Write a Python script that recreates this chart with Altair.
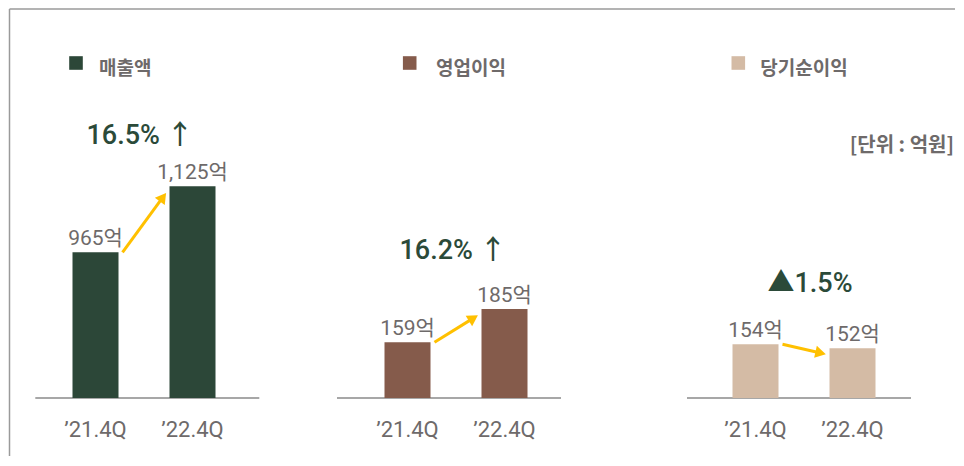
import math
import altair as alt
import pandas as pd

# ---- data ----
periods = ["’21.4Q", "’22.4Q"]
metric_names = ["매출액", "영업이익", "당기순이익"]
sales = [965, 1125]
operating_profit = [159, 185]
net_profit = [154, 152]
growth_labels = ["16.5% ↑", "16.2% ↑", "▲1.5%"]
unit_label = "[단위 : 억원]"
bar_colors = ["#2c4738", "#855b4b", "#d4bba5"]

FONT = "Roboto, 'Noto Sans CJK KR', sans-serif"
KFONT = "'Noto Sans CJK KR', Roboto, sans-serif"
GRAY = "#6e6a6a"
GREEN = "#2b4a39"
GOLD = "#ffc000"

H = 300
STEP = 97
BAND = 46
LEFT_PAD = 40.5


def panel(values, color, name, growth, domain, lay, W=224, first=False, last=False):
    v0, v1 = domain
    a = H / (v1 - v0)
    p_in = 1 - BAND / STEP
    p_out = (W / STEP - 2 + p_in) / 2
    leftover = W - STEP * (2 - p_in)
    align = LEFT_PAD / leftover
    df = pd.DataFrame({
        "period": periods,
        "value": values,
        "label": [f"{v:,}억" for v in values],
    })
    xs = alt.Scale(domain=periods, paddingInner=p_in, paddingOuter=p_out, align=align)
    ys = alt.Scale(domain=[v0, v1], zero=False, nice=False)
    x = alt.X("period:N", scale=xs, sort=periods,
              axis=alt.Axis(title=None, domain=False, ticks=False, labelAngle=0,
                            labelFont=FONT, labelFontSize=22, labelColor=GRAY,
                            labelPadding=21))
    base = alt.Chart(df)
    bars = base.mark_bar(color=color).encode(
        x=x, y=alt.Y("value:Q", scale=ys, axis=None), y2=alt.datum(v0))
    labels = base.mark_text(font=FONT, fontSize=21, color=GRAY, dy=-7,
                            baseline="alphabetic").encode(
        x=alt.X("period:N", scale=xs, sort=periods),
        y=alt.Y("value:Q", scale=ys), text="label:N")

    # arrow between the two bars
    xo0, xo1, ye = 27, -26, 6
    dx = STEP + xo1 - xo0
    dy_down = a * (values[0] - values[1]) + ye
    ang = math.degrees(math.atan2(dx, -dy_down)) % 360
    L = math.hypot(dx, dy_down)
    ux, uy = dx / L, dy_down / L
    back = 6
    arr = pd.DataFrame({"p0": [periods[0]], "p1": [periods[1]],
                        "v0": [values[0]], "v1": [values[1]]})
    abase = alt.Chart(arr)
    line = abase.mark_rule(color=GOLD, strokeWidth=3, xOffset=xo0,
                           x2Offset=xo1 - ux * back, y2Offset=ye - uy * back).encode(
        x=alt.X("p0:N", scale=xs, sort=periods), x2="p1:N",
        y=alt.Y("v0:Q", scale=ys), y2="v1:Q")
    head = abase.mark_point(shape="triangle-up", filled=True, opacity=1, color=GOLD,
                            size=150, angle=ang, xOffset=xo1 - ux * back,
                            yOffset=ye - uy * back, strokeWidth=0).encode(
        x=alt.X("p1:N", scale=xs, sort=periods), y=alt.Y("v1:Q", scale=ys))

    one = alt.Chart(pd.DataFrame({"t": [name], "g": [growth]}))
    baseline = one.mark_rule(color="#8a8a8a", strokeWidth=1.5).encode(
        x=alt.value(lay["bx0"]), x2=alt.value(lay["bx1"]), y=alt.value(H))
    square = one.mark_square(color=color, size=185, opacity=1).encode(
        x=alt.value(lay["sq"]), y=alt.value(-35))
    header = one.mark_text(font=KFONT, fontSize=19, fontWeight="bold", color=GRAY,
                           align="left", baseline="alphabetic").encode(
        x=alt.value(lay["tx"]), y=alt.value(-23), text="t:N")
    gtext = one.mark_text(font=FONT, fontSize=27, fontWeight=500, color=GREEN,
                          align="center", baseline="alphabetic").encode(
        x=alt.value(lay["gx"]), y=alt.value(lay["gy"]), text="g:N")
    layers = [baseline, bars, labels, line, head, square, header, gtext]
    if first:
        frame_l = one.mark_rule(color="#9a9a9a", strokeWidth=1.5).encode(
            x=alt.value(-22.5), y=alt.value(-89), y2=alt.value(358))
        frame_t = one.mark_rule(color="#9a9a9a", strokeWidth=1.5).encode(
            x=alt.value(-22.5), x2=alt.value(923), y=alt.value(-89))
        layers += [frame_l, frame_t]
    if last:
        unit = alt.Chart(pd.DataFrame({"u": [unit_label]})).mark_text(
            font=KFONT, fontSize=20, fontWeight="bold", color=GRAY, align="right",
            baseline="middle").encode(x=alt.value(262), y=alt.value(48), text="u:N")
        layers.append(unit)
    return alt.layer(*layers).properties(width=W, height=H)


p1 = panel(sales, bar_colors[0], metric_names[0], growth_labels[0], (611.8, 1339.1),
           dict(bx0=3.3, bx1=227.3, sq=44, tx=67, gx=108, gy=46), first=True)
p2 = panel(operating_profit, bar_colors[1], metric_names[1], growth_labels[1], (115.5, 349.7),
           dict(bx0=-7, bx1=217, sq=65.7, tx=92, gx=109, gy=161), W=260)
p3 = panel(net_profit, bar_colors[2], metric_names[2], growth_labels[2], (127.15, 277.15),
           dict(bx0=-5, bx1=219, sq=46.3, tx=68.3, gx=118, gy=194), last=True)

chart = alt.hconcat(p1, p2, p3, spacing=88, bounds="flush").properties(
    padding=0, background="white"
).configure_view(strokeWidth=0)

chart.save("out.html", embed_options={"renderer": "svg", "actions": False})
